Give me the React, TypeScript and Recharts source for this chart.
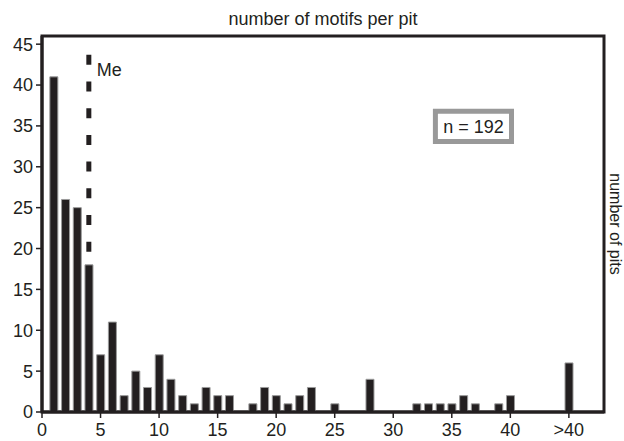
import React from 'react';
import {
  BarChart,
  Bar,
  XAxis,
  YAxis,
  ReferenceArea,
  ReferenceLine,
  ReferenceDot,
} from 'recharts';

const motifCounts: number[] = [
  1, 2, 3, 4, 5, 6, 7, 8, 9, 10, 11, 12, 13, 14, 15, 16, 17, 18, 19, 20,
  21, 22, 23, 24, 25, 26, 27, 28, 29, 30, 31, 32, 33, 34, 35, 36, 37, 38, 39, 40, 45,
];
const pitCounts: number[] = [
  41, 26, 25, 18, 7, 11, 2, 5, 3, 7, 4, 2, 1, 3, 2, 2, 0, 1, 3, 2,
  1, 2, 3, 0, 1, 0, 0, 4, 0, 0, 0, 1, 1, 1, 1, 2, 1, 0, 1, 2, 6,
];
const xTicks: number[] = [0, 5, 10, 15, 20, 25, 30, 35, 40, 45];
const xTickLabels: string[] = ['0', '5', '10', '15', '20', '25', '30', '35', '40', '>40'];
const yTicks: number[] = [0, 5, 10, 15, 20, 25, 30, 35, 40, 45];
const medianValue = 4;
const sampleLabel = 'n = 192';

const data = motifCounts.map((m, i) => ({ motifs: m, pits: pitCounts[i] }));

const FONT = '"Liberation Sans", Arial, sans-serif';
const INK = '#231f20';

export default function App() {
  return (
    <div style={{ position: 'absolute', left: 0, top: 0, fontFamily: FONT }}>
      <BarChart
        width={624}
        height={441}
        data={data}
        margin={{ top: 0, right: -4, bottom: 0, left: 0 }}
        barCategoryGap={0}
      >
        <XAxis
          xAxisId="top"
          orientation="top"
          type="number"
          dataKey="motifs"
          domain={[0, 48]}
          height={36}
          tick={false}
          axisLine={false}
          tickLine={false}
          label={{
            value: 'number of motifs per pit',
            position: 'insideTop',
            offset: 12,
            fill: INK,
            fontSize: 18,
            fontFamily: FONT,
          }}
        />
        <XAxis
          type="number"
          dataKey="motifs"
          domain={[0, 48]}
          ticks={xTicks}
          tickFormatter={(v: number) => xTickLabels[xTicks.indexOf(v)] ?? String(v)}
          height={29}
          tickSize={6}
          tickMargin={5}
          interval={0}
          axisLine={{ stroke: INK, strokeWidth: 3 }}
          tickLine={{ stroke: INK, strokeWidth: 1.5 }}
          tick={{ fill: INK, fontSize: 18, fontFamily: FONT }}
        />
        <YAxis
          type="number"
          domain={[0, 46]}
          ticks={yTicks}
          width={42}
          tickSize={6}
          tickMargin={3}
          interval={0}
          axisLine={{ stroke: INK, strokeWidth: 3 }}
          tickLine={{ stroke: INK, strokeWidth: 1.5 }}
          tick={{ fill: INK, fontSize: 18, fontFamily: FONT }}
        />
        <YAxis
          yAxisId="right"
          orientation="right"
          type="number"
          domain={[0, 46]}
          width={24}
          tick={false}
          axisLine={false}
          tickLine={false}
          label={{
            value: 'number of pits',
            angle: 90,
            position: 'center',
            fill: INK,
            fontSize: 16,
            fontFamily: FONT,
          }}
        />
        <ReferenceArea
          x1={0}
          x2={48}
          y1={0}
          y2={46}
          fill="none"
          fillOpacity={0}
          stroke={INK}
          strokeWidth={3}
        />
        <Bar
          dataKey="pits"
          barSize={8}
          fill={INK}
          stroke="#9a9a9a"
          strokeWidth={1}
          isAnimationActive={false}
        />
        <ReferenceLine
          segment={[
            { x: medianValue, y: 43.7 },
            { x: medianValue, y: 18 },
          ]}
          stroke={INK}
          strokeWidth={5}
          strokeDasharray="10 16.7"
        />
        <ReferenceDot
          x={medianValue}
          y={41.9}
          r={1}
          fill="none"
          stroke="none"
          label={{
            value: 'Me',
            position: 'right',
            offset: 7,
            fill: INK,
            fontSize: 18,
            fontFamily: FONT,
          }}
        />
        <ReferenceArea
          x1={33.6}
          x2={40.1}
          y1={33.1}
          y2={36.8}
          fill="#ffffff"
          fillOpacity={1}
          stroke="#999999"
          strokeWidth={5}
          label={{
            value: sampleLabel,
            position: 'center',
            fill: INK,
            fontSize: 18,
            fontFamily: FONT,
          }}
        />
      </BarChart>
    </div>
  );
}
